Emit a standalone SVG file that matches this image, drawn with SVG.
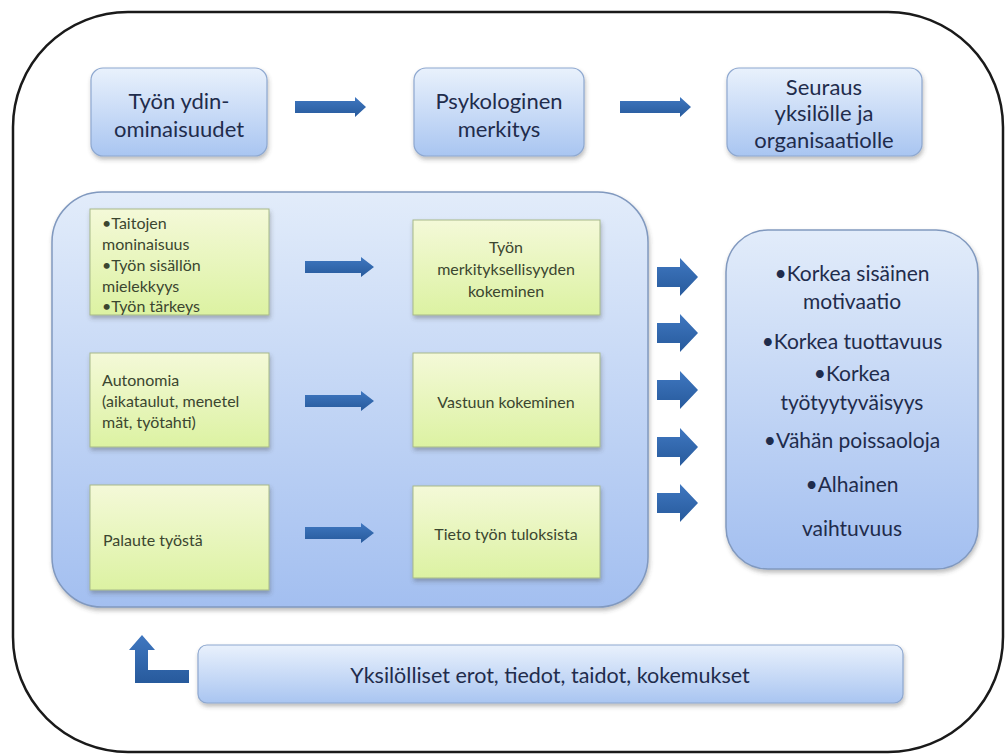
<svg xmlns="http://www.w3.org/2000/svg" width="1007" height="755" viewBox="0 0 1007 755">
<defs>
<linearGradient id="gBlue" x1="0" y1="0" x2="0" y2="1">
<stop offset="0" stop-color="#e9f1fc"/>
<stop offset="1" stop-color="#a9c5f1"/>
</linearGradient>
<linearGradient id="gBig" x1="0" y1="0" x2="0" y2="1">
<stop offset="0" stop-color="#e2ecfa"/>
<stop offset="1" stop-color="#a3bff0"/>
</linearGradient>
<linearGradient id="gGreen" x1="0" y1="0" x2="0" y2="1">
<stop offset="0" stop-color="#f4f9d8"/>
<stop offset="1" stop-color="#dcf2a2"/>
</linearGradient>
<linearGradient id="gArrow" x1="0" y1="0" x2="0" y2="1">
<stop offset="0" stop-color="#3f77c0"/>
<stop offset="1" stop-color="#275a9c"/>
</linearGradient>
<filter id="sh" x="-10%" y="-10%" width="125%" height="130%">
<feDropShadow dx="1" dy="3" stdDeviation="2" flood-color="#404040" flood-opacity="0.35"/>
</filter>
<style>
.blue{fill:url(#gBlue);stroke:#8ea8d0;stroke-width:1.2;filter:url(#sh)}
.big{fill:url(#gBig);stroke:#8199bf;stroke-width:1.5;filter:url(#sh)}
.green{fill:url(#gGreen);stroke:#a7b98a;stroke-width:1;filter:url(#sh)}
.arr{fill:url(#gArrow)}
.t{font-family:Lato,"Open Sans","Liberation Sans",sans-serif;fill:#1f2c4c;text-anchor:middle;dominant-baseline:central}
.top{font-size:22px}
.g{font-family:Lato,"Open Sans","Liberation Sans",sans-serif;fill:#3b4630;font-size:16px;dominant-baseline:central}
.gc{text-anchor:middle}
.r{font-size:21px}
</style>
</defs>
<rect x="13" y="12" width="990" height="740" rx="115" ry="115" fill="#ffffff" stroke="#1a1a1a" stroke-width="2.5"/>
<g id="box-ydin">
<rect class="blue" x="91" y="68" width="176" height="88" rx="12"/>
<text class="t top" x="179" y="100">Työn ydin-</text>
<text class="t top" x="179" y="128">ominaisuudet</text>
</g>
<g id="box-psyk">
<rect class="blue" x="414" y="68" width="170" height="88" rx="12"/>
<text class="t top" x="499" y="100">Psykologinen</text>
<text class="t top" x="499" y="128">merkitys</text>
</g>
<g id="box-seuraus">
<rect class="blue" x="727" y="68" width="195" height="88" rx="12"/>
<text class="t top" x="824" y="86">Seuraus</text>
<text class="t top" x="824" y="112">yksilölle ja</text>
<text class="t top" x="824" y="139">organisaatiolle</text>
</g>
<g id="container">
<rect class="big" x="52" y="192" width="596" height="415" rx="50"/>
</g>
<g id="g-taidot">
<rect class="green" x="90" y="209" width="179" height="106"/>
<text class="g" x="102" y="222">•Taitojen</text>
<text class="g" x="102" y="243">moninaisuus</text>
<text class="g" x="102" y="264">•Työn sisällön</text>
<text class="g" x="102" y="285">mielekkyys</text>
<text class="g" x="102" y="305">•Työn tärkeys</text>
</g>
<g id="g-autonomia">
<rect class="green" x="90" y="353" width="179" height="94"/>
<text class="g" x="102" y="379">Autonomia</text>
<text class="g" x="102" y="400">(aikataulut, menetel</text>
<text class="g" x="102" y="421">mät, työtahti)</text>
</g>
<g id="g-palaute">
<rect class="green" x="90" y="485" width="179" height="105"/>
<text class="g" x="103" y="539">Palaute työstä</text>
</g>
<g id="g-merk">
<rect class="green" x="413" y="220" width="187" height="95"/>
<text class="g gc" x="506" y="246">Työn</text>
<text class="g gc" x="506" y="268">merkityksellisyyden</text>
<text class="g gc" x="506" y="290">kokeminen</text>
</g>
<g id="g-vastuu">
<rect class="green" x="413" y="353" width="187" height="94"/>
<text class="g gc" x="506" y="401">Vastuun kokeminen</text>
</g>
<g id="g-tieto">
<rect class="green" x="413" y="486" width="187" height="92"/>
<text class="g gc" x="506" y="533">Tieto työn tuloksista</text>
</g>
<g id="box-tulokset">
<rect class="big" x="726" y="230" width="252" height="339" rx="42"/>
<text class="t r" x="852" y="272">•Korkea sisäinen</text>
<text class="t r" x="852" y="300">motivaatio</text>
<text class="t r" x="852" y="340">•Korkea tuottavuus</text>
<text class="t r" x="852" y="372">•Korkea</text>
<text class="t r" x="852" y="401">työtyytyväisyys</text>
<text class="t r" x="852" y="439">•Vähän poissaoloja</text>
<text class="t r" x="852" y="483">•Alhainen</text>
<text class="t r" x="852" y="527">vaihtuvuus</text>
</g>
<g id="box-erot">
<rect class="blue" x="198" y="645" width="705" height="58" rx="9"/>
<text class="t" x="550" y="675" font-size="21.5">Yksilölliset erot, tiedot, taidot, kokemukset</text>
</g>
<g id="connectors">
<polygon class="arr" points="295,101 355,101 355,97 366,107 355,117 355,113 295,113"/>
<polygon class="arr" points="620,101 680,101 680,97 691,107 680,117 680,113 620,113"/>
<polygon class="arr" points="305,261 361,261 361,257 374,267 361,277 361,273 305,273"/>
<polygon class="arr" points="305,395 361,395 361,391 374,401 361,411 361,407 305,407"/>
<polygon class="arr" points="305,527 361,527 361,523 374,533 361,543 361,539 305,539"/>
<polygon class="arr" points="657,267 680,267 680,258 698,277 680,296 680,287 657,287"/>
<polygon class="arr" points="657,323 680,323 680,314 698,333 680,352 680,343 657,343"/>
<polygon class="arr" points="657,380 680,380 680,371 698,390 680,409 680,400 657,400"/>
<polygon class="arr" points="657,437 680,437 680,428 698,447 680,466 680,457 657,457"/>
<polygon class="arr" points="657,493 680,493 680,484 698,503 680,522 680,513 657,513"/>
<polygon class="arr" points="129,650 142,635 155,650 148,650 148,670 189,670 189,683 135,683 135,650"/>
</g>
</svg>
